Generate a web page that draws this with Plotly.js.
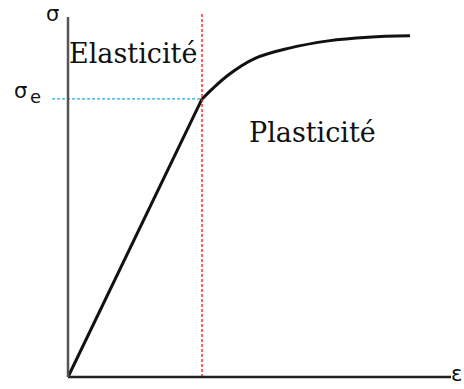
<!DOCTYPE html>
<html>
<head>
<meta charset="utf-8">
<script src="https://cdn.plot.ly/plotly-3.0.1.min.js"></script>
<style>html,body{margin:0;padding:0;background:#fff;}#chart{width:464px;height:389px;}</style>
</head>
<body>
<div id="chart"></div>
<script>
// Normalised strain / stress (yield point = 1, 1)
const strain = [0, 1, 1.196, 1.396, 1.644, 1.943, 2.241, 2.552];
const stress = [0, 1, 1.086, 1.146, 1.182, 1.209, 1.222, 1.227];
const yieldStrain = 1;
const yieldStress = 1;
const axisEndX = 2.858;
const axisEndY = 1.295;
const labels = {elastic: "Elasticité", plastic: "Plasticité", stress: "σ", yieldSym: "σ", yieldSub: "e", strain: "ε"};

const elastic = {x: strain.slice(0, 2), y: stress.slice(0, 2), mode: "lines",
  line: {color: "#111", width: 3}, hoverinfo: "skip"};
const plastic = {x: strain.slice(1), y: stress.slice(1), mode: "lines",
  line: {color: "#111", width: 3, shape: "spline", smoothing: 1}, hoverinfo: "skip"};

const layout = {
  width: 464, height: 389,
  margin: {l: 0, r: 0, t: 0, b: 0},
  paper_bgcolor: "#fff", plot_bgcolor: "#fff",
  showlegend: false,
  xaxis: {range: [-0.5075, 2.955], visible: false, fixedrange: true},
  yaxis: {range: [-0.0432, 1.356], visible: false, fixedrange: true},
  shapes: [
    {type: "line", x0: yieldStrain, x1: yieldStrain, y0: 0, y1: 1.313, line: {color: "#ff1010", width: 1.3, dash: "3px,2px"}},
    {type: "line", x0: -0.119, x1: yieldStrain, y0: yieldStress, y1: yieldStress, line: {color: "#1ea8f0", width: 1.3, dash: "3px,2px"}},
    {type: "line", x0: 0, x1: axisEndX, y0: 0, y1: 0, line: {color: "#222", width: 2.5}},
    {type: "line", x0: 0, x1: 0, y0: 0, y1: axisEndY, line: {color: "#555", width: 2.5}}
  ],
  annotations: [
    {x: 0.485, y: 1.165, text: labels.elastic, showarrow: false, xanchor: "center", yanchor: "middle",
      font: {family: "DejaVu Serif", size: 27, color: "#111"}},
    {x: 1.828, y: 0.881, text: labels.plastic, showarrow: false, xanchor: "center", yanchor: "middle",
      font: {family: "DejaVu Serif", size: 27, color: "#111"}},
    {x: -0.119, y: 1.356, text: labels.stress, showarrow: false, xanchor: "center", yanchor: "top",
      font: {family: "DejaVu Sans", size: 21, color: "#111"}},
    {x: -0.354, y: 1.03, text: labels.yieldSym, showarrow: false, xanchor: "center", yanchor: "middle",
      font: {family: "DejaVu Sans", size: 21, color: "#111"}},
    {x: -0.246, y: 1.01, text: labels.yieldSub, showarrow: false, xanchor: "center", yanchor: "middle",
      font: {family: "DejaVu Sans", size: 18, color: "#111"}},
    {x: 2.955, y: 0.01, text: labels.strain, showarrow: false, xanchor: "right", yanchor: "middle",
      font: {family: "DejaVu Sans", size: 21, color: "#111"}}
  ]
};

Plotly.newPlot("chart", [elastic, plastic], layout, {displayModeBar: false, staticPlot: true});
</script>
</body>
</html>
